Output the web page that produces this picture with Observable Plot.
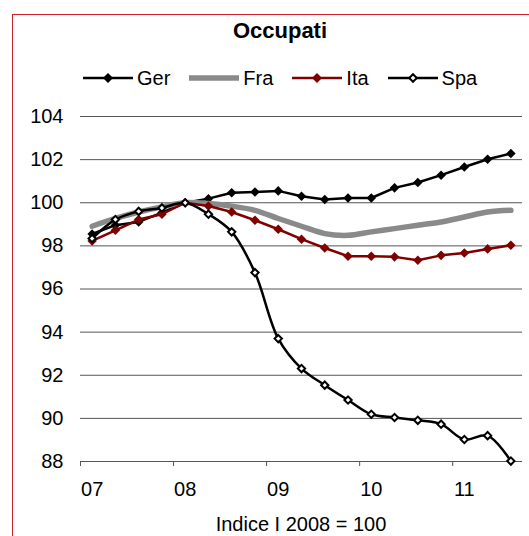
<!DOCTYPE html>
<html><head><meta charset="utf-8">
<script src="https://cdn.jsdelivr.net/npm/d3@7"></script>
<script src="https://cdn.jsdelivr.net/npm/@observablehq/plot@0.6"></script>
<style>
body{margin:0;background:#fff;font-family:"Liberation Sans",Arial,sans-serif;color:#000;}
#wrap{position:relative;width:529px;height:536px;overflow:hidden;}
#frame{position:absolute;left:12px;top:14px;width:620px;height:620px;border:1.5px solid #d0202e;box-sizing:border-box;}
#chart{position:absolute;left:0;top:0;}
#title{position:absolute;left:0;width:560px;top:20px;text-align:center;font-weight:bold;font-size:22px;line-height:22px;}
#legend{position:absolute;left:83px;top:68px;height:20px;display:flex;align-items:center;font-size:20px;line-height:20px;}
#legend .item{display:flex;align-items:center;margin-right:19px;}
#legend svg{margin-right:4px;}
#caption{position:absolute;left:0;width:602px;top:514px;text-align:center;font-size:20px;line-height:20px;}
</style></head>
<body>
<div id="wrap">
  <div id="frame"></div>
  <div id="chart"></div>
  <div id="title"></div>
  <div id="legend"></div>
  <div id="caption"></div>
</div>
<script>
// ---- data ----
const periods = ["2007Q1","2007Q2","2007Q3","2007Q4","2008Q1","2008Q2","2008Q3","2008Q4",
  "2009Q1","2009Q2","2009Q3","2009Q4","2010Q1","2010Q2","2010Q3","2010Q4","2011Q1","2011Q2","2011Q3"];
const ger = [98.55, 98.96, 99.11, 99.54, 100.00, 100.19, 100.46, 100.50, 100.55, 100.30, 100.15, 100.22,
  100.22, 100.69, 100.94, 101.28, 101.66, 102.02, 102.28];
const fra = [98.91, 99.27, 99.57, 99.81, 100.00, 99.96, 99.84, 99.65, 99.27, 98.91, 98.57, 98.49,
  98.65, 98.80, 98.96, 99.11, 99.34, 99.57, 99.65];
const ita = [98.23, 98.72, 99.22, 99.47, 100.00, 99.85, 99.57, 99.19, 98.77, 98.31, 97.90, 97.52,
  97.52, 97.49, 97.33, 97.56, 97.67, 97.86, 98.03];
const spa = [98.34, 99.22, 99.60, 99.76, 100.00, 99.47, 98.65, 96.76, 93.70, 92.31, 91.54, 90.85,
  90.19, 90.04, 89.91, 89.73, 89.02, 89.20, 88.02];
const seriesNames = ["Ger", "Fra", "Ita", "Spa"];
const years = [2007, 2008, 2009, 2010, 2011];
const xLabels = ["07", "08", "09", "10", "11"];
const yTicks = [88, 90, 92, 94, 96, 98, 100, 102, 104];
const titleText = "Occupati";
const captionText = "Indice I 2008 = 100";

// ---- build ----
const tpos = p => +p.slice(0, 4) + (+p.slice(5) - 0.5) / 4;
const toRows = vals => periods.map((p, i) => ({t: tpos(p), v: vals[i]}));
const gerR = toRows(ger), fraR = toRows(fra), itaR = toRows(ita), spaR = toRows(spa);
const labelRows = years.map((y, i) => ({t: y + 0.125, label: xLabels[i]}));

const chart = Plot.plot({
  width: 529, height: 536,
  marginTop: 116, marginBottom: 75, marginLeft: 80, marginRight: 7,
  style: {background: "transparent", fontFamily: "'Liberation Sans', Arial, sans-serif", fontSize: "20px", color: "#000"},
  x: {domain: [2007, 2011.75]},
  y: {domain: [88, 104]},
  marks: [
    Plot.ruleY(yTicks, {stroke: "#555", strokeWidth: 1}),
    Plot.axisY(yTicks, {tickSize: 0, tickPadding: 17, label: null, fontSize: 20}),
    Plot.axisX(years, {tickSize: 5, tickFormat: () => "", label: null, stroke: "#555"}),
    Plot.text(labelRows, {x: "t", frameAnchor: "bottom", text: "label", dy: 34, fontSize: 20}),
    Plot.line(gerR, {x: "t", y: "v", stroke: "#000", strokeWidth: 2.5}),
    Plot.dot(gerR, {x: "t", y: "v", symbol: "diamond2", r: 4.3, fill: "#000"}),
    Plot.line(fraR, {x: "t", y: "v", stroke: "#8a8a8a", strokeWidth: 5.5, curve: "catmull-rom"}),
    Plot.line(itaR, {x: "t", y: "v", stroke: "#800000", strokeWidth: 2.5}),
    Plot.dot(itaR, {x: "t", y: "v", symbol: "diamond2", r: 4.3, fill: "#800000"}),
    Plot.line(spaR, {x: "t", y: "v", stroke: "#000", strokeWidth: 2.5, curve: "catmull-rom"}),
    Plot.dot(spaR, {x: "t", y: "v", symbol: "diamond2", r: 3.3, fill: "#fff", stroke: "#000", strokeWidth: 2})
  ]
});
document.getElementById("chart").appendChild(chart);
document.getElementById("title").textContent = titleText;
document.getElementById("caption").textContent = captionText;

const swatch = {
  Ger: {stroke: "#000", w: 2.5, marker: {fill: "#000", stroke: "none", s: 5}},
  Fra: {stroke: "#8a8a8a", w: 5.5, marker: null},
  Ita: {stroke: "#800000", w: 2.5, marker: {fill: "#800000", stroke: "none", s: 5}},
  Spa: {stroke: "#000", w: 2.5, marker: {fill: "#fff", stroke: "#000", s: 3.8}}
};
const legend = document.getElementById("legend");
seriesNames.forEach(n => {
  const s = swatch[n];
  const item = document.createElement("div");
  item.className = "item";
  let svg = `<svg width="50" height="14"><line x1="0" x2="50" y1="7" y2="7" stroke="${s.stroke}" stroke-width="${s.w}" stroke-linecap="${n === "Fra" ? "round" : "butt"}"/>`;
  if (s.marker) {
    const m = s.marker, c = 25;
    svg += `<polygon points="${c},${7 - m.s} ${c + m.s},7 ${c},${7 + m.s} ${c - m.s},7" fill="${m.fill}" stroke="${m.stroke}" stroke-width="2"/>`;
  }
  svg += `</svg>`;
  item.innerHTML = svg + `<span>${n}</span>`;
  legend.appendChild(item);
});
</script>
</body></html>
